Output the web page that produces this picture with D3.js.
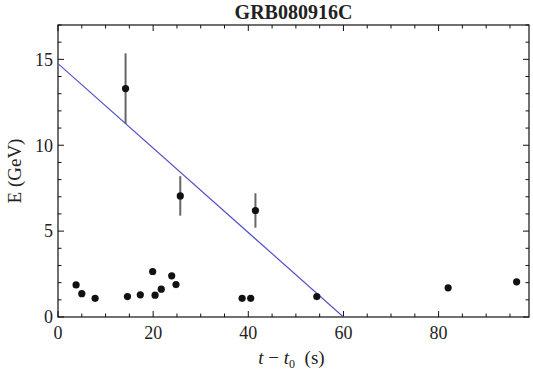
<!DOCTYPE html>
<html>
<head>
<meta charset="utf-8">
<script src="https://cdn.jsdelivr.net/npm/d3@7"></script>
<style>
  body { margin: 0; background: #fff; }
  svg { display: block; }
  text { font-family: "Liberation Serif", "DejaVu Serif", serif; fill: #222; }
</style>
</head>
<body>
<svg id="chart" width="533" height="377"></svg>
<script>
// photon arrival times (s) and energies (GeV)
const times    = [3.8, 5.0, 7.8, 14.6, 17.3, 19.9, 20.4, 21.7, 23.9, 24.8, 38.7, 40.5, 54.4, 82.0, 96.4];
const energies = [1.87, 1.36, 1.09, 1.19, 1.29, 2.65, 1.27, 1.62, 2.40, 1.89, 1.09, 1.09, 1.19, 1.70, 2.05];

// points with error bars
const errTimes  = [14.2, 25.7, 41.5];
const errValues = [13.3, 7.05, 6.2];
const errSizes  = [2.05, 1.15, 1.0];

// fitted line endpoints
const lineT = [0, 60];
const lineE = [14.75, 0];

const xTicks = [0, 20, 40, 60, 80];
const yTicks = [0, 5, 10, 15];

const svg = d3.select('#chart');
const margin = {left: 58, right: 4, top: 25, bottom: 60};
const W = 533, H = 377;

const x = d3.scaleLinear().domain([0, 99]).range([margin.left, W - margin.right]);
const y = d3.scaleLinear().domain([0, 17]).range([H - margin.bottom, margin.top]);

const minorX = d3.range(0, 100, 5);
const minorY = d3.range(0, 18, 1);

// frame
svg.append('rect')
	.attr('x', x(0)).attr('y', y(17))
	.attr('width', x(99) - x(0)).attr('height', y(0) - y(17))
	.attr('fill', 'none').attr('stroke', '#111').attr('stroke-width', 1.2);

const tickLen = v => (v % 20 === 0) ? 6 : 3.5;
const tickLenY = v => (v % 5 === 0) ? 6 : 3.5;

const ticks = svg.append('g').attr('stroke', '#111').attr('stroke-width', 1);
// bottom and top ticks
ticks.selectAll('.tb').data(minorX).enter().append('line')
	.attr('x1', d => x(d)).attr('x2', d => x(d))
	.attr('y1', y(0)).attr('y2', d => y(0) - tickLen(d));
ticks.selectAll('.tt').data(minorX).enter().append('line')
	.attr('x1', d => x(d)).attr('x2', d => x(d))
	.attr('y1', y(17)).attr('y2', d => y(17) + tickLen(d));
// left and right ticks
ticks.selectAll('.tl').data(minorY).enter().append('line')
	.attr('y1', d => y(d)).attr('y2', d => y(d))
	.attr('x1', x(0)).attr('x2', d => x(0) + tickLenY(d));
ticks.selectAll('.tr').data(minorY).enter().append('line')
	.attr('y1', d => y(d)).attr('y2', d => y(d))
	.attr('x1', x(99)).attr('x2', d => x(99) - tickLenY(d));

// tick labels
svg.selectAll('.xl').data(xTicks).enter().append('text')
	.attr('x', d => x(d)).attr('y', y(0) + 22)
	.attr('text-anchor', 'middle').attr('font-size', 18)
	.text(d => d);
svg.selectAll('.yl').data(yTicks).enter().append('text')
	.attr('x', x(0) - 5).attr('y', d => y(d)).attr('dy', '0.35em')
	.attr('text-anchor', 'end').attr('font-size', 18)
	.text(d => d);

// fitted line
svg.append('line')
	.attr('x1', x(lineT[0])).attr('y1', y(lineE[0]))
	.attr('x2', x(lineT[1])).attr('y2', y(lineE[1]))
	.attr('stroke', '#5252c8').attr('stroke-width', 1.2);

// error bars
const errData = errTimes.map((t, i) => ({t: t, e: errValues[i], s: errSizes[i]}));
svg.selectAll('.err').data(errData).enter().append('line')
	.attr('x1', d => x(d.t)).attr('x2', d => x(d.t))
	.attr('y1', d => y(d.e + d.s)).attr('y2', d => y(d.e - d.s))
	.attr('stroke', '#666').attr('stroke-width', 2);
svg.selectAll('.errpt').data(errData).enter().append('circle')
	.attr('cx', d => x(d.t)).attr('cy', d => y(d.e))
	.attr('r', 3.6).attr('fill', '#111');

// points
svg.selectAll('.pt').data(times).enter().append('circle')
	.attr('cx', d => x(d)).attr('cy', (d, i) => y(energies[i]))
	.attr('r', 3.6).attr('fill', '#111');

// title and axis labels
svg.append('text')
	.attr('x', (x(0) + x(99)) / 2).attr('y', 19)
	.attr('text-anchor', 'middle').attr('font-size', 20).attr('font-weight', 'bold')
	.text('GRB080916C');

svg.append('text')
	.attr('transform', `translate(21,${(y(0) + y(17)) / 2}) rotate(-90)`)
	.attr('text-anchor', 'middle').attr('font-size', 19)
	.text('E  (GeV)');

const xl = svg.append('text')
	.attr('x', (x(0) + x(99)) / 2 - 2).attr('y', 364)
	.attr('text-anchor', 'middle').attr('font-size', 19);
xl.append('tspan').attr('font-style', 'italic').text('t');
xl.append('tspan').text(' \u2212 ');
xl.append('tspan').attr('font-style', 'italic').text('t');
xl.append('tspan').attr('font-size', 12).attr('dy', 4).text('0');
xl.append('tspan').attr('dy', -4).text('\u2002(s)');
</script>
</body>
</html>
